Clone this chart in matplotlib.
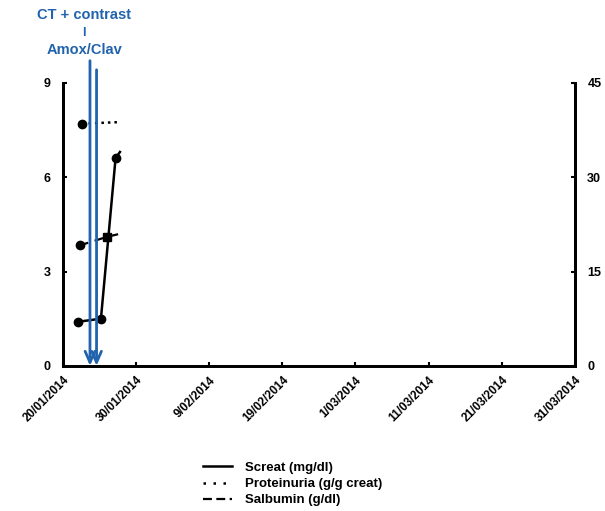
import matplotlib
matplotlib.use("Agg")
import matplotlib.pyplot as plt
from matplotlib.lines import Line2D

plt.rcParams['font.family'] = ['Liberation Sans', 'DejaVu Sans']
plt.rcParams['font.weight'] = 'bold'

# days counted from 20/01/2014
tick_days = [0, 10, 20, 30, 40, 50, 60, 70]
tick_labels = ['20/01/2014', '30/01/2014', '9/02/2014', '19/02/2014',
               '1/03/2014', '11/03/2014', '21/03/2014', '31/03/2014']

screat_days = [2.0, 5.2, 7.2, 7.8]
screat_vals = [1.4, 1.5, 6.6, 6.8]

prot_days = [2.6, 7.7]
prot_vals = [7.7, 7.75]

salb_days = [2.3, 6.0, 7.8]
salb_vals = [3.83, 4.1, 4.2]

event_days = [3.7, 4.6]
event_tops = [1.078, 1.046]  # axes fraction where the arrow starts

blue = '#2263ad'

fig = plt.figure(figsize=(6.05, 5.11), dpi=100)
ax = fig.add_axes([0.104, 0.284, 0.846, 0.554])

ax.plot(screat_days, screat_vals, '-', color='black', lw=1.8,
        marker='o', ms=6, markevery=[0, 1, 2])
ax.plot(prot_days, prot_vals, ':', color='black', lw=1.8, dashes=(1, 1.6),
        marker='o', ms=6, markevery=[0])
ax.plot(salb_days, salb_vals, '--', color='black', lw=1.6, dashes=(4, 3))
ax.plot(salb_days[:1], salb_vals[:1], 'o', color='black', ms=6)
ax.plot(salb_days[1:2], salb_vals[1:2], 's', color='black', ms=5.5)

for d, top in zip(event_days, event_tops):
    ax.annotate('', xy=(d, 0), xycoords=('data', 'data'),
                xytext=(d, top), textcoords=('data', 'axes fraction'),
                arrowprops=dict(arrowstyle='->, head_length=0.8, head_width=0.35',
                                color=blue, lw=2, shrinkA=0, shrinkB=0),
                annotation_clip=False)

ax.set_xlim(0, 70)
ax.set_ylim(0, 9)
ax.set_xticks(tick_days)
ax.set_xticklabels(tick_labels, rotation=45, ha='right', rotation_mode='anchor',
                   fontsize=8.5, fontweight='bold')
ax.set_yticks([0, 3, 6, 9])
ax.set_yticklabels(['0', '3', '6', '9'], fontsize=9, fontweight='bold')
ax.tick_params(direction='in', length=3, width=1.5, pad=9)
ax.tick_params(axis='x', pad=6)

ax2 = ax.twinx()
ax2.set_ylim(0, 45)
ax2.set_yticks([0, 15, 30, 45])
ax2.set_yticklabels(['0', '15', '30', '45'], fontsize=9, fontweight='bold')
ax2.tick_params(direction='in', length=3, width=1.5, pad=9)

for a in (ax, ax2):
    a.spines['top'].set_visible(False)
    for s in ('left', 'bottom', 'right'):
        a.spines[s].set_linewidth(2)

fig.text(84 / 605, 1 - 15 / 511, 'CT + contrast', color=blue, ha='center', va='center',
         fontsize=10.5, fontweight='bold')
fig.text(84 / 605, 1 - 33 / 511, 'I', color=blue, ha='center', va='center',
         fontsize=9, fontweight='bold')
fig.text(85 / 605, 1 - 50 / 511, 'Amox/Clav', color=blue, ha='center', va='center',
         fontsize=10.5, fontweight='bold')

handles = [Line2D([], [], color='black', lw=1.8, ls='-'),
           Line2D([], [], color='black', lw=1.8, ls=':', dashes=(1, 3)),
           Line2D([], [], color='black', lw=1.6, ls='--', dashes=(4, 2))]
labels = ['Screat (mg/dl)', 'Proteinuria (g/g creat)', 'Salbumin (g/dl)']
fig.legend(handles, labels, loc='upper left', bbox_to_anchor=(191 / 605, 1 - 450 / 511),
           frameon=False, handlelength=2.2, handletextpad=1.0,
           labelspacing=0.3, prop={'weight': 'bold', 'size': 9.5})

fig.savefig('out.png', dpi=100)
